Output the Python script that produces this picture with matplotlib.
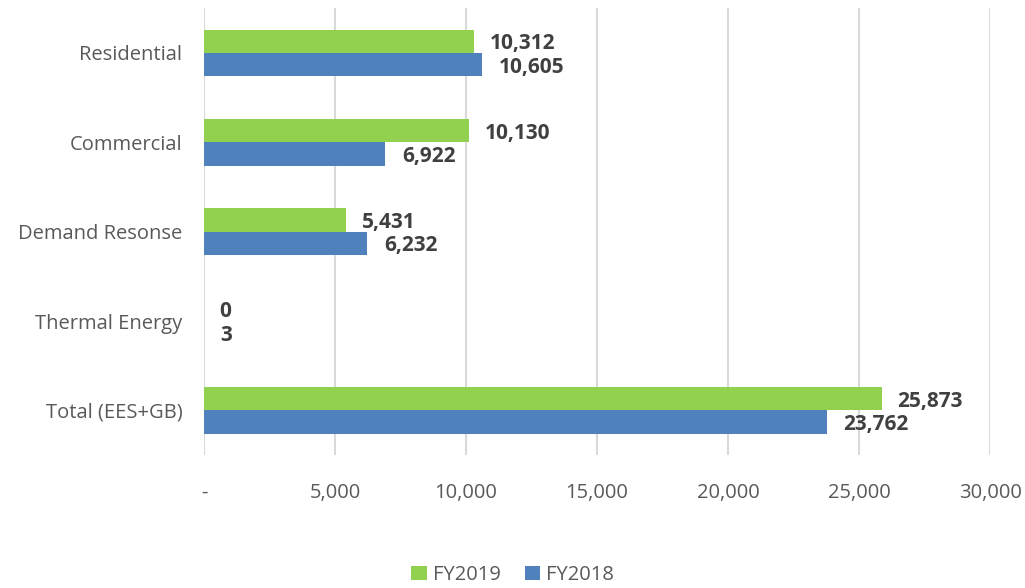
import numpy as np
import matplotlib.pyplot as plt

plt.rcParams['font.family'] = ['Open Sans', 'DejaVu Sans']

# data
categories = ["Residential", "Commercial", "Demand Resonse", "Thermal Energy", "Total (EES+GB)"]
fy2019 = [10312, 10130, 5431, 0, 25873]
fy2018 = [10605, 6922, 6232, 3, 23762]
xticks = [0, 5000, 10000, 15000, 20000, 25000, 30000]
xtick_labels = ["-", "5,000", "10,000", "15,000", "20,000", "25,000", "30,000"]

green = "#92d050"
blue = "#4f81bd"

fig = plt.figure(figsize=(10.25, 5.88), dpi=100)
ax = fig.add_axes([0.199, 0.226, 0.767, 0.760])

y = np.arange(len(categories))
h = 0.26
ax.barh(y - h / 2, fy2019, height=h, color=green, label="FY2019", zorder=3)
ax.barh(y + h / 2, fy2018, height=h, color=blue, label="FY2018", zorder=3)

# value labels to the right of each bar
for yi, v in zip(y, fy2019):
    ax.annotate(f"{v:,}", (v, yi - h / 2), xytext=(11, 0), textcoords="offset points",
                ha="left", va="center_baseline", fontsize=15, fontweight="bold", color="#404040")
for yi, v in zip(y, fy2018):
    ax.annotate(f"{v:,}", (v, yi + h / 2), xytext=(12, 0), textcoords="offset points",
                ha="left", va="center_baseline", fontsize=15, fontweight="bold", color="#404040")

ax.set_ylim(len(categories) - 0.5, -0.5)
ax.set_xlim(0, 30000)
ax.set_yticks(y)
ax.set_yticklabels(categories, fontsize=14.5, color="#595959")
ax.set_xticks(xticks)
ax.set_xticklabels(xtick_labels, fontsize=14.5, color="#595959")
ax.tick_params(length=0)
ax.tick_params(axis="x", pad=20)
ax.tick_params(axis="y", pad=15.5)
ax.grid(axis="x", color="#d9d9d9", linewidth=1.5, zorder=0)
for s in ax.spines.values():
    s.set_visible(False)

fig.legend(loc="center", bbox_to_anchor=(0.5, 0.022), ncol=2, frameon=False,
           fontsize=14.5, labelcolor="#595959", handlelength=0.75, handleheight=0.75,
           handletextpad=0.3, columnspacing=1.2)

fig.savefig("out.png", dpi=100)
